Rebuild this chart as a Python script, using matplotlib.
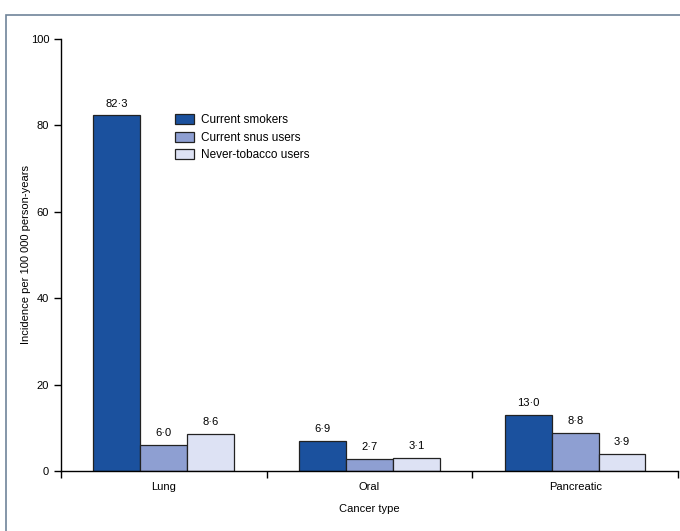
import numpy as np
import matplotlib.pyplot as plt
from matplotlib.patches import Rectangle

plt.rcParams['font.family'] = ['Liberation Sans Narrow', 'Liberation Sans', 'DejaVu Sans']

# Incidence per 100 000 person-years by cancer type
cancer_types = ['Lung', 'Oral', 'Pancreatic']
groups = ['Current smokers', 'Current snus users', 'Never-tobacco users']
smokers = [82.3, 6.9, 13.0]
snus = [6.0, 2.7, 8.8]
never = [8.6, 3.1, 3.9]
colors = ['#1b519e', '#8e9fd2', '#dde2f4']

fig = plt.figure(figsize=(6.8, 5.31), dpi=100)
ax = fig.add_axes([0.0897, 0.113, 0.9073, 0.8136])

# thin frame around the whole panel
fig.patches.append(Rectangle((6 / 680, -0.1), 1.2, 1.1 - 15 / 531,
                             transform=fig.transFigure, fill=False,
                             edgecolor='#6f8499', lw=1.2))

x = np.arange(len(cancer_types))
w = 0.228
for i, (vals, lab, col) in enumerate(zip([smokers, snus, never], groups, colors)):
    pos = x + (i - 1) * w
    ax.bar(pos, vals, w, color=col, edgecolor='#222222', lw=0.9, label=lab)
    for p, v in zip(pos, vals):
        ax.text(p, v + 1.6, f'{v:.1f}'.replace('.', '\u00b7'), ha='center',
                va='bottom', fontsize=8)

ax.set_xlim(-0.5, 2.5)
ax.set_ylim(0, 100)
ax.set_yticks([0, 20, 40, 60, 80, 100])
ax.set_xticks([-0.5, 0.5, 1.5, 2.5])
ax.set_xticklabels([])
for xi, name in zip(x, cancer_types):
    ax.text(xi, -2.6, name, ha='center', va='top', fontsize=8)
ax.text(1.0, -7.6, 'Cancer type', ha='center', va='top', fontsize=8)
ax.set_ylabel('Incidence per 100 000 person-years', fontsize=8)
ax.yaxis.set_label_coords(-0.049, 0.5)

ax.tick_params(axis='both', length=5, width=1, labelsize=8, direction='out')
ax.spines['top'].set_visible(False)
ax.spines['right'].set_visible(False)
ax.spines['left'].set_linewidth(1)
ax.spines['bottom'].set_linewidth(1)

ax.legend(loc='upper left', bbox_to_anchor=(0.168, 0.85), frameon=False,
          fontsize=8.5, handlelength=1.6, handleheight=0.9, labelspacing=0.45,
          handletextpad=0.6)

fig.savefig('out.png', dpi=100)
